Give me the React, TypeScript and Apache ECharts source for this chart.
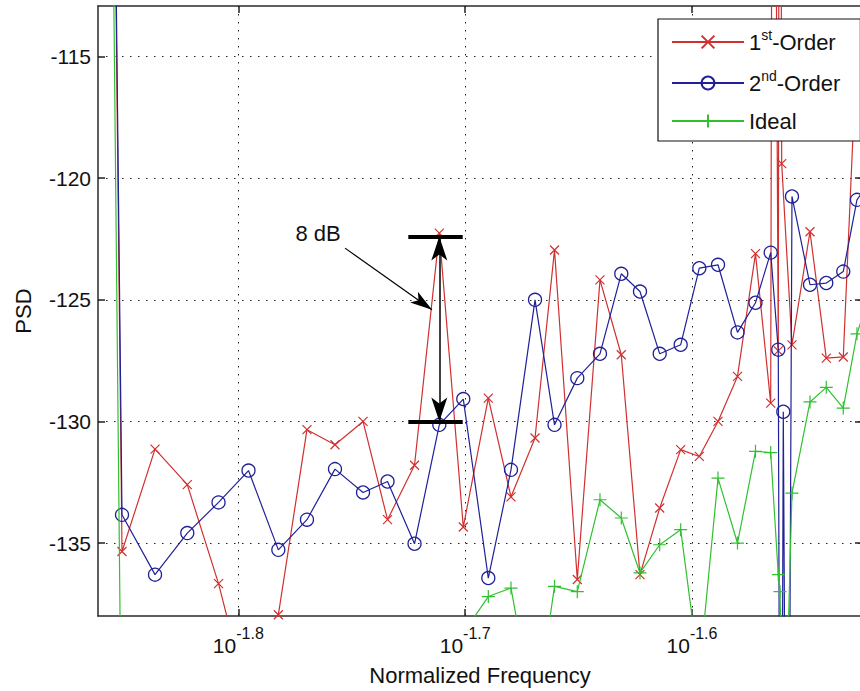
import React, { useEffect, useRef } from 'react';
import * as echarts from 'echarts';

// Normalized frequency bins (shared by all three curves)
const freqs = [0.013598, 0.014084, 0.014564, 0.015049, 0.015534, 0.016014, 0.016506, 0.016993, 0.017483, 0.017988,
  0.018441, 0.018953, 0.019436, 0.019915, 0.020427, 0.020903, 0.021419, 0.021847, 0.022358, 0.022879,
  0.023379, 0.023827, 0.024309, 0.024832, 0.025306, 0.025791, 0.026306, 0.026791, 0.027208, 0.027802,
  0.028315, 0.028787, 0.029288, 0.029698, 0.030154];

const firstOrder = [-5, -135.35, -131.14, -132.6, -136.67, -141.5, -137.95, -130.34, -130.96, -130.0,
  -134.04, -131.8, -122.26, -134.34, -129.04, -133.1, -130.68, -122.95, -136.5, -124.18,
  -127.26, -136.3, -133.56, -131.16, -131.44, -130.0, -128.15, -123.1, -129.25, -126.85,
  -122.2, -127.4, -127.35, -114.5, -117];

const secondOrder = [-5, -133.84, -136.3, -134.59, -133.33, -132.02, -135.28, -134.04, -131.96, -132.92,
  -132.47, -135.03, -130.14, -129.08, -136.44, -131.99, -125.0, -130.14, -128.22, -127.22,
  -123.93, -124.66, -127.22, -126.85, -123.7, -123.56, -126.34, -125.12, -123.06, -120.75,
  -124.38, -124.31, -123.84, -120.89, -120.0];

const ideal = [-5, -146, -144, -142, -145, -143, -146, -142, -144, -143,
  -145, -142, -141, -138.7, -137.2, -136.85, -142.3, -136.78, -137.0, -133.22,
  -133.97, -136.23, -135.07, -134.45, -140.3, -132.33, -135.0, -131.23, -131.28, -132.95,
  -129.2, -128.6, -129.45, -126.4, -124.5];

// extra points around the spur near 10^-1.56
const firstOrderSpurFreqs = [0.027271, 0.027418, 0.02746, 0.027513];
const firstOrderSpurValues = [-85, -127.1, -85, -119.4];
const secondOrderSpurFreqs = [0.027418, 0.027488, 0.027558, 0.027676];
const secondOrderSpurValues = [-127.05, -160, -129.6, -160];
const idealSpurFreqs = [0.027418, 0.027466, 0.027577];
const idealSpurValues = [-136.3, -137.0, -145];

const xTicks = [0.015849, 0.019953, 0.025119];
const xTickExponents = ['-1.8', '-1.7', '-1.6'];
const yTicks = [-135, -130, -125, -120, -115];

const X_MIN = 0.013745;
const X_MAX = 0.02985;
const Y_MIN = -138.0;
const Y_MAX = -112.92;

// "8 dB" annotation (data coordinates)
const annotPeakFreq = 0.019436;
const annotBarFreqs = [0.018834, 0.019903];
const annotLevels = [-122.4, -130.0];
const annotPointerFrom = [0.017662, -122.875];
const annotPointerTo = [0.019292, -125.41];
const annotTextAt = [0.017185, -122.29];

const FONT = '"Liberation Sans", Arial, Helvetica, sans-serif';
const RED = '#d03030';
const BLUE = '#202098';
const GREEN = '#30c030';

function build(f: number[], v: number[], sf: number[], sv: number[]) {
  const pts: number[][] = f.map((x, i) => [x, v[i]]);
  sf.forEach((x, i) => pts.push([x, sv[i]]));
  pts.sort((a, b) => a[0] - b[0]);
  return pts;
}

export default function App() {
  const ref = useRef<HTMLDivElement>(null);
  useEffect(() => {
    if (!ref.current) return;
    const chart = echarts.init(ref.current, null, { renderer: 'svg' });
    const tickFmt = (val: number) => {
      const lv = Math.log10(val);
      let best = 0;
      for (let i = 0; i < xTicks.length; i++) {
        if (Math.abs(Math.log10(xTicks[i]) - lv) < Math.abs(Math.log10(xTicks[best]) - lv)) best = i;
      }
      return '{b|10}{e|' + xTickExponents[best] + '}';
    };
    const dotted = { color: '#222', width: 1, type: [1.5, 6.5] as any };
    const axisLine = { show: true, lineStyle: { color: '#2a2a2a', width: 1.5 } };
    const legendName = (name: string) => {
      if (name === '1st-Order') return '{n|1}{s|st}{n|-Order}';
      if (name === '2nd-Order') return '{n|2}{s|nd}{n|-Order}';
      return '{n|' + name + '}';
    };
    const option: any = {
      animation: false,
      backgroundColor: '#fff',
      textStyle: { fontFamily: FONT },
      grid: { left: 98, top: 6, width: 764, height: 610, outerBoundsMode: 'none', containLabel: false },
      legend: {
        data: ['1st-Order', '2nd-Order', 'Ideal'],
        orient: 'vertical',
        left: 658,
        top: 19,
        padding: [9, 20, 9, 13],
        itemGap: 16,
        itemWidth: 72,
        itemHeight: 16,
        backgroundColor: '#fff',
        borderColor: '#111',
        borderWidth: 1.2,
        borderRadius: 0,
        selectedMode: false,
        formatter: legendName,
        textStyle: {
          fontFamily: FONT,
          color: '#111',
          rich: {
            n: { fontSize: 22, lineHeight: 28, fontFamily: FONT, color: '#111' },
            s: { fontSize: 14, lineHeight: 14, verticalAlign: 'top', fontFamily: FONT, color: '#111' },
          },
        },
      },
      xAxis: [
        {
          type: 'log',
          logBase: 10,
          min: X_MIN,
          max: X_MAX,
          position: 'bottom',
          axisLine: { ...axisLine, onZero: false },
          axisTick: { show: true, inside: true, length: 7, customValues: xTicks, lineStyle: { color: '#222', width: 1.5 } },
          splitLine: { show: true, lineStyle: dotted },
          minorTick: { show: false },
          minorSplitLine: { show: false },
          axisLabel: {
            show: true,
            customValues: xTicks,
            margin: 9,
            formatter: tickFmt,
            color: '#111',
            rich: {
              b: { fontSize: 21, lineHeight: 40, fontFamily: FONT, color: '#111' },
              e: { fontSize: 16, lineHeight: 16, verticalAlign: 'top', fontFamily: FONT, color: '#111' },
            },
          },
          name: 'Normalized Frequency',
          nameLocation: 'middle',
          nameGap: 48,
          nameTextStyle: { fontSize: 22, color: '#111', fontFamily: FONT },
        },
        {
          type: 'log',
          logBase: 10,
          min: X_MIN,
          max: X_MAX,
          position: 'top',
          axisLine: { ...axisLine, onZero: false },
          axisTick: { show: true, inside: true, length: 7, customValues: xTicks, lineStyle: { color: '#222', width: 1.5 } },
          axisLabel: { show: false },
          splitLine: { show: false },
          minorTick: { show: false },
        },
      ],
      yAxis: [
        {
          type: 'value',
          min: Y_MIN,
          max: Y_MAX,
          position: 'left',
          axisLine: { ...axisLine, onZero: false },
          axisTick: { show: true, inside: true, length: 7, customValues: yTicks, lineStyle: { color: '#222', width: 1.5 } },
          splitLine: { show: true, lineStyle: dotted },
          axisLabel: { show: true, customValues: yTicks, margin: 7, fontSize: 21, color: '#111', fontFamily: FONT },
          name: 'PSD',
          nameLocation: 'middle',
          nameGap: 64,
          nameTextStyle: { fontSize: 22, color: '#111', fontFamily: FONT },
        },
        {
          type: 'value',
          min: Y_MIN,
          max: Y_MAX,
          position: 'right',
          axisLine: { ...axisLine, onZero: false },
          axisTick: { show: true, inside: true, length: 7, customValues: yTicks, lineStyle: { color: '#222', width: 1.5 } },
          splitLine: { show: false },
          axisLabel: { show: false },
        },
      ],
      series: [
        {
          name: '1st-Order',
          type: 'line',
          data: build(freqs, firstOrder, firstOrderSpurFreqs, firstOrderSpurValues),
          symbol: 'path://M0,0L10,10M10,0L0,10',
          symbolSize: 9,
          clip: true,
          lineStyle: { color: RED, width: 1.2 },
          itemStyle: { color: 'rgba(0,0,0,0)', borderColor: RED, borderWidth: 1.2 },
          emphasis: { disabled: true },
          z: 2,
        },
        {
          name: '2nd-Order',
          type: 'line',
          data: build(freqs, secondOrder, secondOrderSpurFreqs, secondOrderSpurValues),
          symbol: 'circle',
          symbolSize: 13,
          clip: true,
          lineStyle: { color: BLUE, width: 1.2 },
          itemStyle: { color: 'rgba(0,0,0,0)', borderColor: BLUE, borderWidth: 1.3 },
          emphasis: { disabled: true },
          z: 3,
        },
        {
          name: 'Ideal',
          type: 'line',
          data: build(freqs, ideal, idealSpurFreqs, idealSpurValues),
          symbol: 'path://M5,0L5,10M0,5L10,5',
          symbolSize: 13,
          clip: true,
          lineStyle: { color: GREEN, width: 1.2 },
          itemStyle: { color: 'rgba(0,0,0,0)', borderColor: GREEN, borderWidth: 1.2 },
          emphasis: { disabled: true },
          z: 4,
        },
        {
          name: 'annotation',
          type: 'line',
          data: [],
          silent: true,
          z: 5,
          markLine: {
            silent: true,
            animation: false,
            symbol: 'none',
            label: { show: false },
            emphasis: { disabled: true },
            data: [
              [
                { coord: [annotBarFreqs[0], annotLevels[0]], symbol: 'none', lineStyle: { color: '#000', width: 4, type: 'solid' } },
                { coord: [annotBarFreqs[1], annotLevels[0]], symbol: 'none', lineStyle: { color: '#000', width: 4, type: 'solid' } },
              ],
              [
                { coord: [annotBarFreqs[0], annotLevels[1]], symbol: 'none', lineStyle: { color: '#000', width: 4, type: 'solid' } },
                { coord: [annotBarFreqs[1], annotLevels[1]], symbol: 'none', lineStyle: { color: '#000', width: 4, type: 'solid' } },
              ],
              [
                { coord: [annotPeakFreq, annotLevels[0]], symbol: 'arrow', symbolSize: [12, 24], lineStyle: { color: '#000', width: 1.5, type: 'solid' }, itemStyle: { color: '#000' } },
                { coord: [annotPeakFreq, annotLevels[1]], symbol: 'arrow', symbolSize: [12, 24], lineStyle: { color: '#000', width: 1.5, type: 'solid' }, itemStyle: { color: '#000' } },
              ],
              [
                { coord: annotPointerFrom, symbol: 'none', lineStyle: { color: '#000', width: 1.2, type: 'solid' }, itemStyle: { color: '#000' } },
                { coord: annotPointerTo, symbol: 'arrow', symbolSize: [10, 22], lineStyle: { color: '#000', width: 1.2, type: 'solid' }, itemStyle: { color: '#000' } },
              ],
            ],
          },
          markPoint: {
            silent: true,
            symbol: 'circle',
            symbolSize: 1,
            itemStyle: { color: 'rgba(0,0,0,0)' },
            label: { show: true, position: 'inside', formatter: '8 dB', color: '#111', fontSize: 22, fontFamily: FONT },
            data: [{ coord: annotTextAt }],
          },
        },
      ],
    };
    chart.setOption(option);
    return () => chart.dispose();
  }, []);
  return <div ref={ref} style={{ position: 'absolute', left: 0, top: 0, width: 860, height: 691 }} />;
}
